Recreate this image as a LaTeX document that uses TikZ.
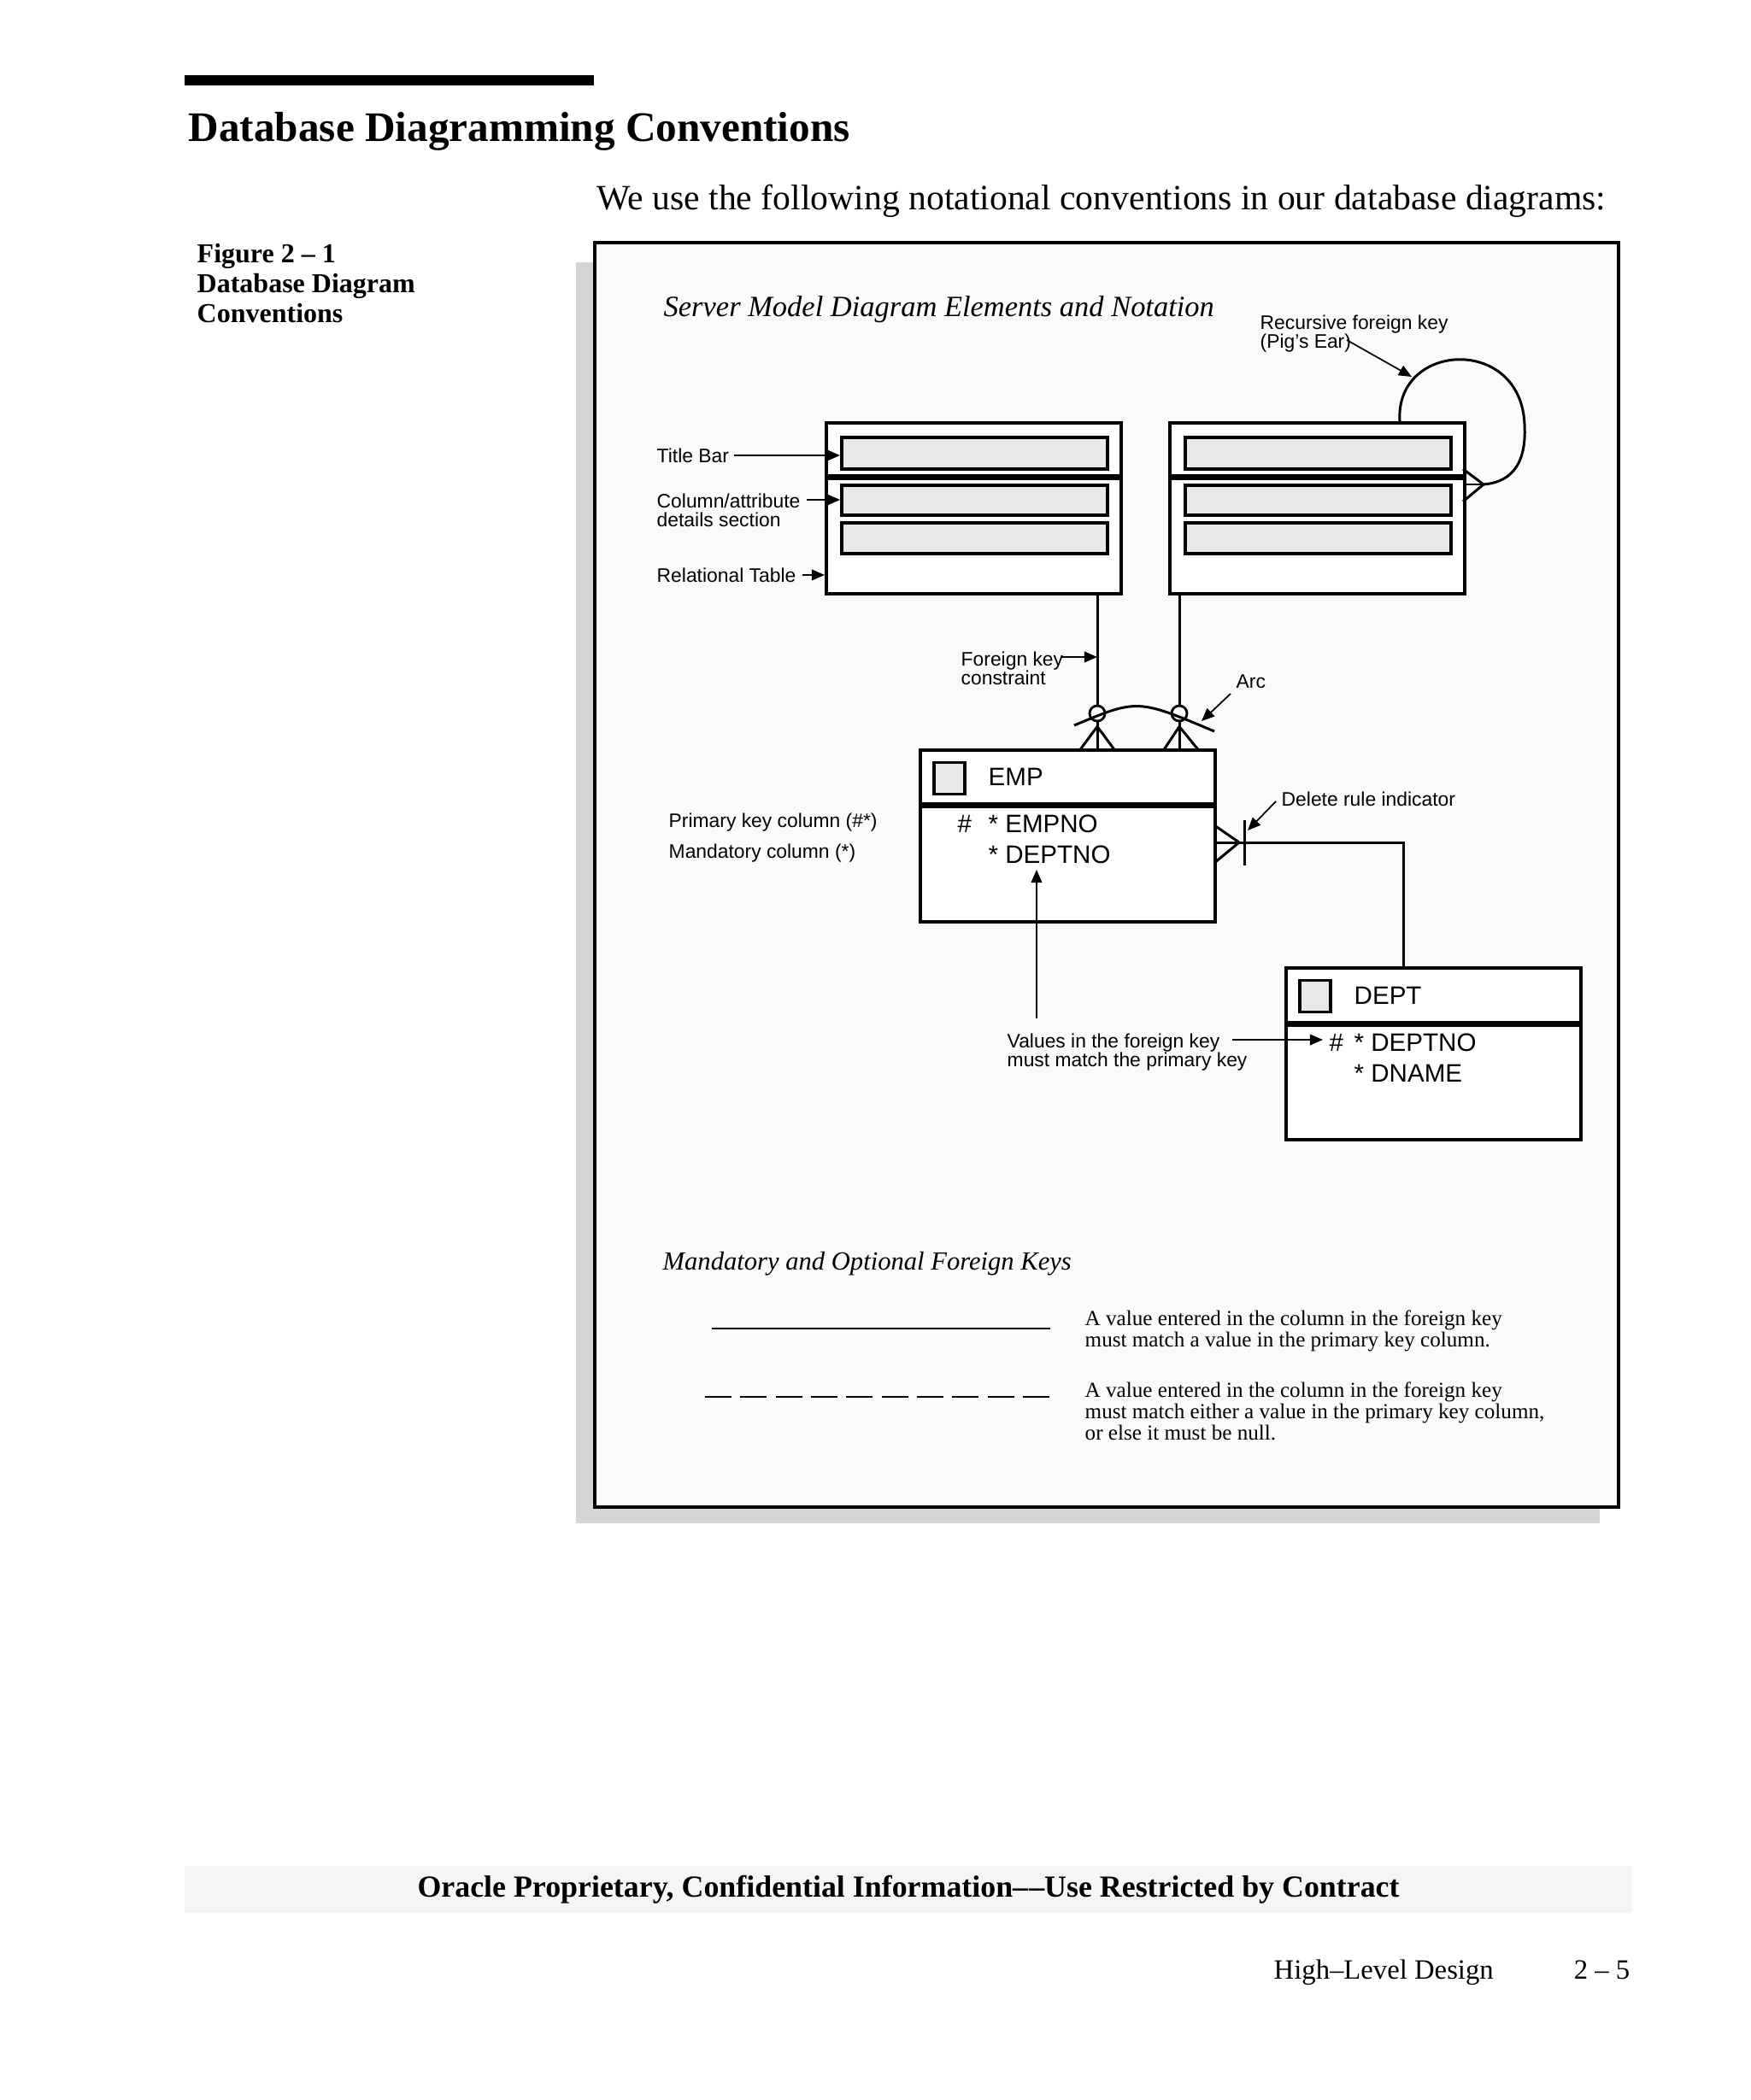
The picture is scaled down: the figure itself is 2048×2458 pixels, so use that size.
\documentclass[tikz,border=0pt]{standalone}
\usepackage{fontspec}
\setmainfont{Liberation Serif}
\setsansfont{Liberation Sans}
\usetikzlibrary{arrows.meta}

\tikzset{
  head/.style={font=\bfseries\fontsize{14}{16}\selectfont, inner sep=0pt},
  intro/.style={font=\fontsize{11.85}{13}\selectfont, inner sep=0pt},
  capt/.style={font=\bfseries\fontsize{9.1}{9.96}\selectfont, inner sep=0pt, align=left},
  sect/.style={font=\itshape\fontsize{9.8}{12}\selectfont, inner sep=0pt},
  note/.style={font=\fontsize{7.15}{7.1}\selectfont, inner sep=0pt, align=left},
  foot/.style={font=\bfseries\fontsize{10.2}{11}\selectfont, inner sep=0pt},
  folio/.style={font=\fontsize{9.3}{11}\selectfont, inner sep=0pt},
  lbl/.style={font=\sffamily\fontsize{6.5}{6.4}\selectfont, inner sep=0pt, align=left},
  fld/.style={font=\sffamily\fontsize{8.4}{10}\selectfont, inner sep=0pt},
  tblbox/.style={draw, line width=1.05pt, fill=white, minimum width=3.45cm, inner sep=0pt},
  barbox/.style={draw, line width=1pt, fill=black!9, minimum width=3.11cm, inner sep=0pt},
  keybox/.style={draw, line width=1pt, fill=black!9, minimum width=0.36cm, minimum height=0.37cm, inner sep=0pt},
  ring/.style={draw, circle, line width=0.8pt, minimum size=0.18cm, inner sep=0pt},
  rel/.style={line width=0.85pt},
  arr/.style={-{Triangle[length=4.3pt,width=3.6pt]}, line width=0.5pt},
}

\begin{document}
\begin{tikzpicture}[x=0.01cm,y=-0.01cm]
  \useasboundingbox (0,0) rectangle (2048,2458);
  % page heading
  \fill (216,88) rectangle (695,100);
  \node[head, anchor=base west] (title) at (220,166) {Database Diagramming Conventions};
  \node[intro, anchor=base west] (intro) at (698,246) {We use the following notational conventions in our database diagrams:};
  \node[capt, anchor=north west] (capt) at (230,285) {Figure 2 – 1\\Database Diagram\\Conventions};

  % figure frame with shadow
  \fill[black!17] (674,307) rectangle (1872,1783);
  \draw[line width=1.1pt, fill=black!2] (696,284) rectangle (1894,1764);
  \node[sect, anchor=base west] (secta) at (776,370) {Server Model Diagram Elements and Notation};

  % two relational tables
  \node[tblbox, minimum height=0.62cm, anchor=north west] (tab1hd) at (965,493) {};
  \node[tblbox, minimum height=1.34cm, anchor=north] (tab1bd) at (tab1hd.south) {};
  \node[barbox, minimum height=0.37cm, anchor=north west] (bar1a) at (983,510) {};
  \node[barbox, minimum height=0.35cm, anchor=north west] (bar1b) at (983,566) {};
  \node[barbox, minimum height=0.36cm, anchor=north west] (bar1c) at (983,610) {};
  \node[tblbox, minimum height=0.62cm, anchor=north west] (tab2hd) at (1367,493) {};
  \node[tblbox, minimum height=1.34cm, anchor=north] (tab2bd) at (tab2hd.south) {};
  \node[barbox, minimum height=0.37cm, anchor=north west] (bar2a) at (1385,510) {};
  \node[barbox, minimum height=0.35cm, anchor=north west] (bar2b) at (1385,566) {};
  \node[barbox, minimum height=0.36cm, anchor=north west] (bar2c) at (1385,610) {};

  % labels on the left
  \node[lbl, anchor=west] (lTitle) at (768,533) {Title Bar};
  \draw[arr, shorten <=1.5pt] (lTitle.east) -- (lTitle.east -| bar1a.west);
  \node[lbl, anchor=north west] (lCols) at (768,577) {Column/attribute\\details section};
  \coordinate (colsTail) at (944,585);
  \draw[arr] (colsTail) -- (colsTail -| bar1b.west);
  \node[lbl, anchor=west] (lRel) at (768,673) {Relational Table};
  \draw[arr, shorten <=2pt] (lRel.east) -- (lRel.east -| tab1bd.west);

  % pig's ear
  \node[lbl, anchor=north west] (lRec) at (1474,368) {Recursive foreign key\\(Pig’s Ear)};
  \coordinate (peTop) at (1638,493);
  \coordinate (pe) at (1736,567);
  \draw[rel] (peTop) .. controls (1632,400) and (1780,392) .. (1784,497)
                     .. controls (1787,550) and (1762,565) .. (pe);
  \draw[rel] (pe) ++(-24,-18) -- (pe) -- ++(-24,20);
  \draw[rel] (pe) -- (pe -| tab2bd.east);
  \coordinate (recTail) at (1576,398);
  \coordinate (recTip) at (1652,441);
  \draw[arr] (recTail) -- (recTip);

  % foreign keys with arc
  \node[ring] (o1) at (1284,835) {};
  \node[ring] (o2) at (1380,835) {};
  \draw[rel] (o1 |- tab1bd.south) -- (o1.north);
  \draw[rel] (o2 |- tab2bd.south) -- (o2.north);
  \node[lbl, anchor=north west] (lFK) at (1124,762) {Foreign key\\constraint};
  \coordinate (fkTail) at (1243,769);
  \draw[arr] (fkTail) -- (fkTail -| o1);
  \coordinate (arcL) at (1257,849);
  \coordinate (arcR) at (1421,856);
  \draw[rel] (arcL) .. controls (1331,818) .. (arcR);
  \node[lbl, anchor=west] (lArc) at (1446,798) {Arc};
  \coordinate (arcTail) at (1440,812);
  \coordinate (arcTip) at (1406,844);
  \draw[arr] (arcTail) -- (arcTip);

  % EMP table
  \node[tblbox, minimum height=0.63cm, anchor=north west] (emphd) at (1075,876) {};
  \node[tblbox, minimum height=1.34cm, anchor=north] (empbd) at (emphd.south) {};
  \node[keybox] (empkey) at (1111,911) {};
  \node[fld, anchor=west] (empname) at (1156,909) {EMP};
  \node[fld, anchor=west] (emphash) at (1120,964) {\#};
  \node[fld, anchor=west] (empno) at (1156,964) {* EMPNO};
  \node[fld, anchor=west] (empdept) at (1156,1000) {* DEPTNO};
  \draw[rel] (o1.south) -- (o1 |- emphd.north);
  \draw[rel] (o1.south) ++(0,5) -- ++(-20,27);
  \draw[rel] (o1.south) ++(0,5) -- ++(20,27);
  \draw[rel] (o2.south) -- (o2 |- emphd.north);
  \draw[rel] (o2.south) ++(0,5) -- ++(-18,27);
  \draw[rel] (o2.south) ++(0,5) -- ++(22,27);
  \node[lbl, anchor=west] (lPK) at (782,963) {Primary key column (\#*)};
  \node[lbl, anchor=west] (lMand) at (782,999) {Mandatory column (*)};

  % DEPT table
  \node[tblbox, minimum height=0.64cm, anchor=north west] (depthd) at (1503,1131) {};
  \node[tblbox, minimum height=1.33cm, anchor=north] (deptbd) at (depthd.south) {};
  \node[keybox] (deptkey) at (1539,1166) {};
  \node[fld, anchor=west] (deptname) at (1584,1165) {DEPT};
  \node[fld, anchor=west] (depthash) at (1555,1220) {\#};
  \node[fld, anchor=west] (deptno) at (1584,1220) {* DEPTNO};
  \node[fld, anchor=west] (dname) at (1584,1256) {* DNAME};

  % delete rule relation
  \coordinate (dr) at (1450,986);
  \coordinate (drTurn) at (1642,986);
  \draw[rel] (dr -| empbd.east) -- (drTurn) -- (drTurn |- depthd.north);
  \draw[rel] (dr) ++(-29,-20) -- (dr) -- ++(-29,24);
  \draw[rel] (dr) ++(6,-26) -- ++(0,53);
  \node[lbl, anchor=west] (lDel) at (1499,935) {Delete rule indicator};
  \coordinate (delTail) at (1493,938);
  \coordinate (delTip) at (1460,972);
  \draw[arr] (delTail) -- (delTip);

  % matching values
  \node[lbl, anchor=north west] (lVal) at (1178,1209) {Values in the foreign key\\must match the primary key};
  \coordinate (valTail) at (1213,1192);
  \coordinate (valTip) at (1213,1018);
  \draw[arr] (valTail) -- (valTip);
  \coordinate (valOut) at (1442,1217);
  \draw[arr, shorten >=2pt] (valOut) -- (valOut -| depthash.west);

  % mandatory and optional keys
  \node[sect, font=\itshape\fontsize{8.7}{11}\selectfont, anchor=base west] (sectb) at (775,1486) {Mandatory and Optional Foreign Keys};
  \coordinate (mandL) at (833,1555);
  \coordinate (mandR) at (1229,1555);
  \draw[line width=0.8pt] (mandL) -- (mandR);
  \coordinate (optL) at (825,1635);
  \coordinate (optR) at (1228,1635);
  \draw[line width=0.8pt, dash pattern=on 0.31cm off 0.103cm] (optL) -- (optR);
  \node[note, anchor=north west] (nMand) at (1269,1533) {A value entered in the column in the foreign key\\must match a value in the primary key column.};
  \node[note, anchor=north west] (nOpt) at (1269,1617) {A value entered in the column in the foreign key\\must match either a value in the primary key column,\\or else it must be null.};

  % page footer
  \fill[black!4] (216,2184) rectangle (1910,2239);
  \node[foot] (conf) at (1063,2212) {Oracle Proprietary, Confidential Information–\kern0.3pt–Use Restricted by Contract};
  \node[folio, anchor=base west] (chap) at (1490,2316) {High–Level Design};
  \node[folio, anchor=base east] (page) at (1908,2316) {2 – 5};
\end{tikzpicture}
\end{document}
